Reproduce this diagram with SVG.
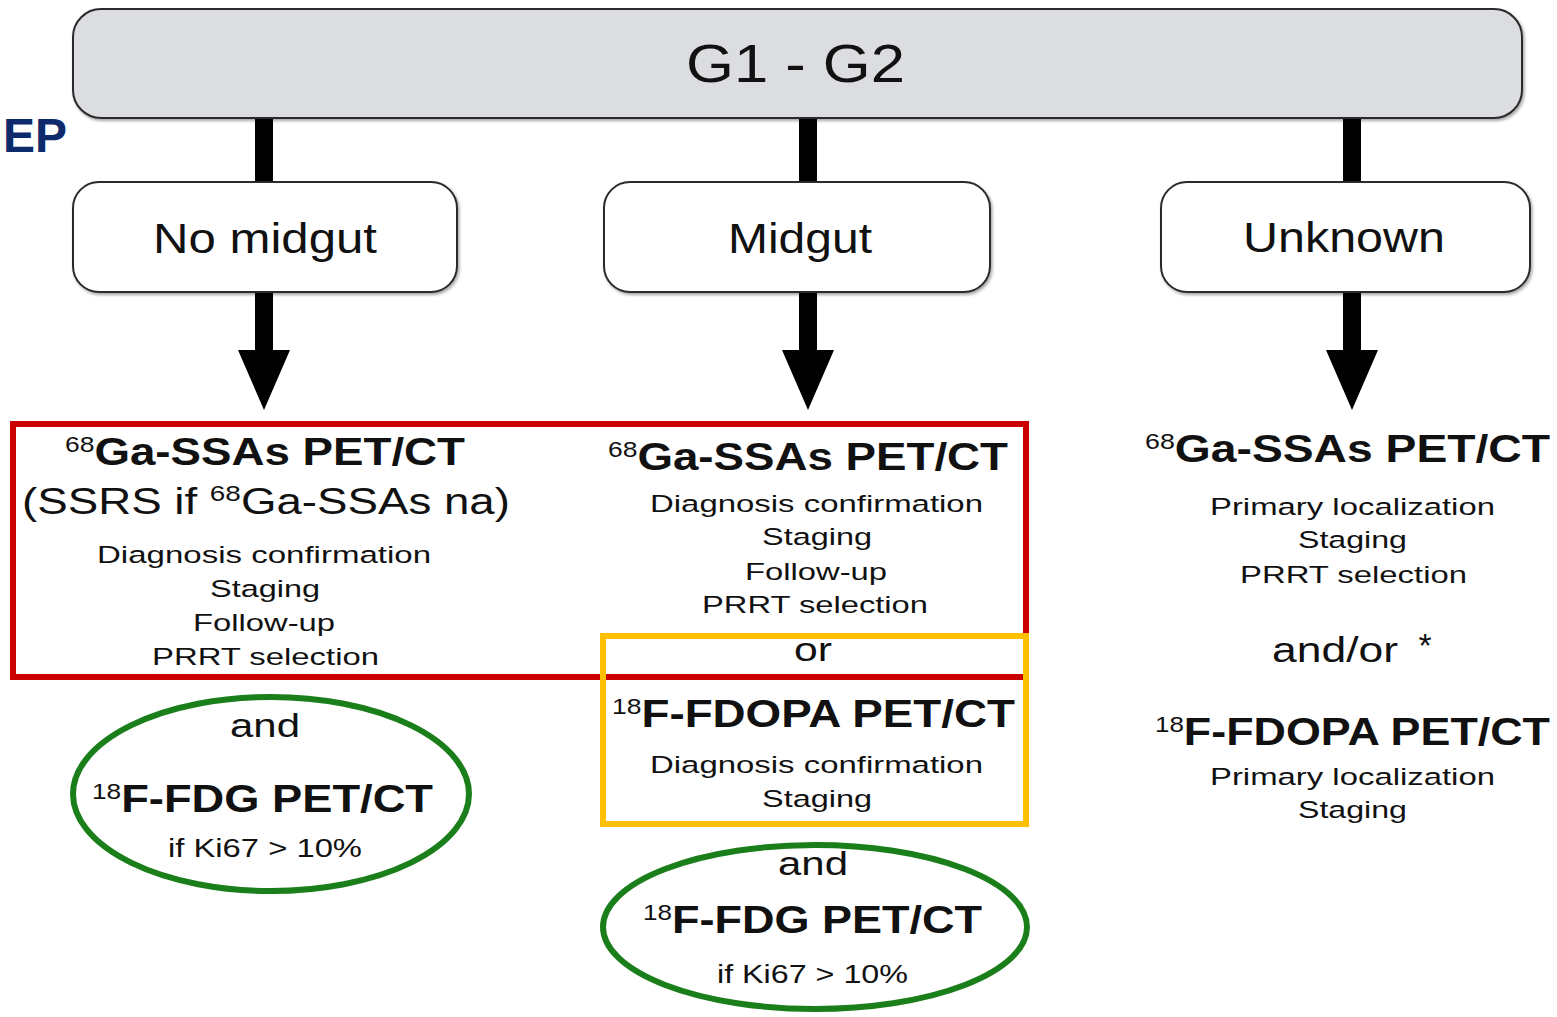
<svg xmlns="http://www.w3.org/2000/svg" width="1557" height="1017" viewBox="0 0 1557 1017">
<defs>
<filter id="sh" x="-5%" y="-10%" width="110%" height="130%">
<feDropShadow dx="1.5" dy="2" stdDeviation="1.5" flood-color="#000" flood-opacity="0.35"/>
</filter>
<style>
text{font-family:"Liberation Sans",Arial,sans-serif;fill:#111;text-anchor:middle}
.hd{font-size:54px}
.bx{font-size:43px}
.b{font-weight:bold;font-size:38px}
.sup{font-size:22px;font-weight:normal}
.s{font-size:24.5px}
.m{font-size:34px}
.k{font-size:26px}
.gbox{fill:#dcdde0;stroke:#2a2a2a;stroke-width:2}
.wbox{fill:#fff;stroke:#2a2a2a;stroke-width:2}
.red{fill:none;stroke:#cc0000;stroke-width:6}
.yel{fill:none;stroke:#ffc000;stroke-width:6}
.grn{fill:#fff;stroke:#1a7f1a;stroke-width:6}
.arr{fill:#000}
</style>
</defs>
<rect width="1557" height="1017" fill="#fff"/>
<text x="67" y="152" style="text-anchor:end;font-weight:bold;font-size:48px;fill:#0d2a6b">EP</text>

<g id="connectors">
<rect class="arr" x="255" y="116" width="18" height="68"/>
<rect class="arr" x="799" y="116" width="18" height="68"/>
<rect class="arr" x="1343" y="116" width="18" height="68"/>
<path class="arr" d="M255,290 h18 v60 h17 l-26,60 l-26,-60 h17 z"/>
<path class="arr" d="M799,290 h18 v60 h17 l-26,60 l-26,-60 h17 z"/>
<path class="arr" d="M1343,290 h18 v60 h17 l-26,60 l-26,-60 h17 z"/>
</g>

<g id="n-g1g2">
<rect class="gbox" x="73" y="9" width="1449" height="109" rx="28" filter="url(#sh)"/>
<text class="hd" x="795.5" y="82" textLength="219" lengthAdjust="spacingAndGlyphs">G1 - G2</text>
</g>
<g id="n-nomidgut">
<rect class="wbox" x="73" y="182" width="384" height="110" rx="26" filter="url(#sh)"/>
<text class="bx" x="265" y="253" textLength="224" lengthAdjust="spacingAndGlyphs">No midgut</text>
</g>
<g id="n-midgut">
<rect class="wbox" x="604" y="182" width="386" height="110" rx="26" filter="url(#sh)"/>
<text class="bx" x="800" y="253" textLength="144" lengthAdjust="spacingAndGlyphs">Midgut</text>
</g>
<g id="n-unknown">
<rect class="wbox" x="1161" y="182" width="369" height="110" rx="26" filter="url(#sh)"/>
<text class="bx" x="1344" y="252" textLength="202" lengthAdjust="spacingAndGlyphs">Unknown</text>
</g>

<g id="n-left-ssa">
<rect class="red" x="13" y="424" width="1013" height="253"/>
<text class="b" x="265" y="465" textLength="400" lengthAdjust="spacingAndGlyphs"><tspan class="sup" dy="-13">68</tspan><tspan dy="13">Ga-SSAs PET/CT</tspan></text>
<text x="266" y="514" style="font-size:36px" textLength="488" lengthAdjust="spacingAndGlyphs">(SSRS if <tspan style="font-size:22px" dy="-13">68</tspan><tspan dy="13">Ga-SSAs na)</tspan></text>
<text class="s" x="264" y="563" textLength="334" lengthAdjust="spacingAndGlyphs">Diagnosis confirmation</text>
<text class="s" x="265" y="597" textLength="110" lengthAdjust="spacingAndGlyphs">Staging</text>
<text class="s" x="264" y="631" textLength="142" lengthAdjust="spacingAndGlyphs">Follow-up</text>
<text class="s" x="265.5" y="665" textLength="227" lengthAdjust="spacingAndGlyphs">PRRT selection</text>
</g>

<g id="n-mid-ssa">
<text class="b" x="808" y="470" textLength="400" lengthAdjust="spacingAndGlyphs"><tspan class="sup" dy="-13">68</tspan><tspan dy="13">Ga-SSAs PET/CT</tspan></text>
<text class="s" x="816.5" y="512" textLength="333" lengthAdjust="spacingAndGlyphs">Diagnosis confirmation</text>
<text class="s" x="817" y="545" textLength="110" lengthAdjust="spacingAndGlyphs">Staging</text>
<text class="s" x="816" y="580" textLength="142" lengthAdjust="spacingAndGlyphs">Follow-up</text>
<text class="s" x="815" y="613" textLength="226" lengthAdjust="spacingAndGlyphs">PRRT selection</text>
</g>

<g id="n-mid-fdopa">
<rect class="yel" x="603" y="636" width="423" height="188"/>
<text class="m" x="813" y="661" textLength="38" lengthAdjust="spacingAndGlyphs">or</text>
<text class="b" x="813.5" y="727" textLength="403" lengthAdjust="spacingAndGlyphs"><tspan class="sup" dy="-13">18</tspan><tspan dy="13">F-FDOPA PET/CT</tspan></text>
<text class="s" x="816.5" y="773" textLength="333" lengthAdjust="spacingAndGlyphs">Diagnosis confirmation</text>
<text class="s" x="817" y="807" textLength="110" lengthAdjust="spacingAndGlyphs">Staging</text>
</g>

<g id="n-left-fdg">
<ellipse class="grn" cx="271" cy="794" rx="198" ry="97"/>
<text class="m" x="265" y="737" textLength="70" lengthAdjust="spacingAndGlyphs">and</text>
<text class="b" x="262.5" y="812" textLength="341" lengthAdjust="spacingAndGlyphs"><tspan class="sup" dy="-13">18</tspan><tspan dy="13">F-FDG PET/CT</tspan></text>
<text class="k" x="265" y="857" textLength="194" lengthAdjust="spacingAndGlyphs">if Ki67 &gt; 10%</text>
</g>

<g id="n-mid-fdg">
<ellipse class="grn" cx="815" cy="927" rx="212" ry="82"/>
<text class="m" x="813" y="875" textLength="70" lengthAdjust="spacingAndGlyphs">and</text>
<text class="b" x="812.5" y="933" textLength="339" lengthAdjust="spacingAndGlyphs"><tspan class="sup" dy="-13">18</tspan><tspan dy="13">F-FDG PET/CT</tspan></text>
<text class="k" x="812.5" y="983" textLength="191" lengthAdjust="spacingAndGlyphs">if Ki67 &gt; 10%</text>
</g>

<g id="n-right">
<text class="b" x="1347.5" y="462" textLength="405" lengthAdjust="spacingAndGlyphs"><tspan class="sup" dy="-13">68</tspan><tspan dy="13">Ga-SSAs PET/CT</tspan></text>
<text class="s" x="1352.5" y="515" textLength="285" lengthAdjust="spacingAndGlyphs">Primary localization</text>
<text class="s" x="1352.5" y="548" textLength="109" lengthAdjust="spacingAndGlyphs">Staging</text>
<text class="s" x="1353.5" y="583" textLength="227" lengthAdjust="spacingAndGlyphs">PRRT selection</text>
<text x="1335" y="662" style="font-size:35px" textLength="126" lengthAdjust="spacingAndGlyphs">and/or</text>
<text x="1425" y="657" style="font-size:34px">*</text>
<text class="b" x="1352.5" y="745" textLength="395" lengthAdjust="spacingAndGlyphs"><tspan class="sup" dy="-13">18</tspan><tspan dy="13">F-FDOPA PET/CT</tspan></text>
<text class="s" x="1352.5" y="785" textLength="285" lengthAdjust="spacingAndGlyphs">Primary localization</text>
<text class="s" x="1352.5" y="818" textLength="109" lengthAdjust="spacingAndGlyphs">Staging</text>
</g>
</svg>
